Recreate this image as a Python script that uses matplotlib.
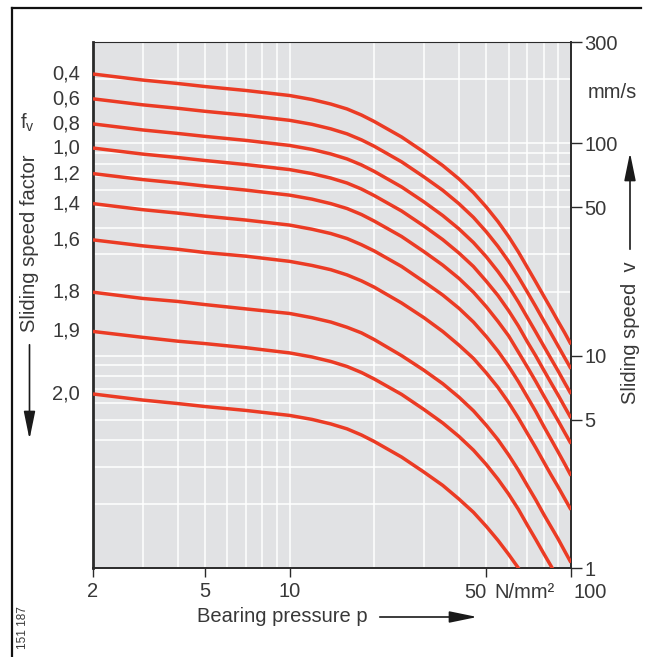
import matplotlib
matplotlib.use("Agg")
import matplotlib.pyplot as plt
from matplotlib.patches import FancyArrowPatch
from matplotlib.lines import Line2D
from matplotlib.ticker import FixedLocator, NullFormatter

plt.rcParams["font.family"] = ["Liberation Sans", "DejaVu Sans"]
plt.rcParams["mathtext.fontset"] = "custom"
plt.rcParams["mathtext.rm"] = "Liberation Sans"
plt.rcParams["mathtext.it"] = "Liberation Sans:italic"

# ── data ─────────────────────────────────────────────────────────────────────
PRESSURE = [2, 3, 4, 5, 7, 10, 12, 14, 16, 18, 20, 25, 30, 35, 40, 45, 50,
            55, 60, 65, 70, 75, 80, 85, 90, 95, 100]

V_04 = [212, 198.6, 191.3, 185.1, 177.3, 167.9, 160.8, 153.1, 145.1, 135.9, 126.6, 107.1, 91.0,
        78.6, 67.9, 58.6, 50.1, 42.8, 36.4, 30.8, 26.0, 22.2, 19.1, 16.6, 14.5, 12.8, 11.3]
V_06 = [162, 151.8, 146.2, 141.5, 135.5, 128.3, 122.9, 117.0, 110.8, 103.8, 96.8, 81.8, 69.5,
        60.1, 51.9, 44.8, 38.3, 32.7, 27.8, 23.5, 19.9, 17.0, 14.6, 12.7, 11.1, 9.77, 8.67]
V_08 = [123.4, 115.6, 111.3, 107.8, 103.2, 97.7, 93.6, 89.1, 84.4, 79.1, 73.7, 62.3, 53.0,
        45.7, 39.5, 34.1, 29.2, 24.9, 21.2, 17.9, 15.1, 12.9, 11.1, 9.65, 8.47, 7.44, 6.60]
V_10 = [95, 89.0, 85.7, 83.0, 79.4, 75.2, 72.0, 68.6, 65.0, 60.9, 56.7, 48.0, 40.8,
        35.2, 30.4, 26.3, 22.4, 19.2, 16.3, 13.8, 11.6, 9.96, 8.55, 7.43, 6.52, 5.73, 5.08]
V_12 = [72, 67.5, 65.0, 62.9, 60.2, 57.0, 54.6, 52.0, 49.3, 46.2, 43.0, 36.4, 30.9,
        26.7, 23.1, 19.9, 17.0, 14.5, 12.4, 10.4, 8.83, 7.55, 6.48, 5.63, 4.94, 4.34, 3.85]
V_14 = [52, 48.7, 46.9, 45.4, 43.5, 41.2, 39.4, 37.6, 35.6, 33.3, 31.1, 26.3, 22.3,
        19.3, 16.7, 14.4, 12.3, 10.5, 8.92, 7.55, 6.38, 5.45, 4.65, 4.03, 3.52, 3.09, 2.72]
V_16 = [35.1, 32.9, 31.7, 30.6, 29.4, 27.8, 26.6, 25.4, 24.0, 22.5, 21.0, 17.7, 15.1,
        13.0, 11.2, 9.71, 8.29, 7.09, 6.02, 5.09, 4.30, 3.68, 3.16, 2.74, 2.41, 2.12, 1.88]
V_18 = [19.9, 18.6, 18.0, 17.4, 16.6, 15.8, 15.1, 14.4, 13.6, 12.8, 11.9, 10.0, 8.54,
        7.38, 6.37, 5.50, 4.70, 4.02, 3.41, 2.89, 2.44, 2.09, 1.79, 1.56, 1.37, 1.20, 1.06]
V_19 = [13.0, 12.2, 11.7, 11.4, 10.9, 10.3, 9.86, 9.39, 8.89, 8.33, 7.76, 6.57, 5.58,
        4.82, 4.16, 3.59, 3.07, 2.62, 2.23, 1.89, 1.59, 1.36, 1.17, 1.02, 0.89, 0.78, 0.70]
V_20 = [6.6, 6.18, 5.95, 5.76, 5.52, 5.23, 5.01, 4.77, 4.52, 4.23, 3.94, 3.33, 2.83,
        2.45, 2.11, 1.83, 1.57, 1.35, 1.16, 1.00, 0.85, 0.72, 0.62, 0.54, 0.47, 0.41, 0.36]

FV_LABELS = ["0,4", "0,6", "0,8", "1,0", "1,2", "1,4", "1,6", "1,8", "1,9", "2,0"]
CURVES = [V_04, V_06, V_08, V_10, V_12, V_14, V_16, V_18, V_19, V_20]

X_TICKS = [2, 5, 10, 50, 100]
X_TICK_LABELS = ["2", "5", "10", "", ""]
X_GRID = [3, 4, 6, 7, 8, 9, 20, 30, 40, 60, 70, 80, 90]
Y_TICKS = [1, 5, 10, 50, 100, 300]
Y_TICK_LABELS = ["1", "5", "10", "50", "100", "300"]
Y_GRID = [2, 3, 4, 6, 7, 8, 9, 20, 30, 40, 60, 70, 80, 90, 200]

# ── styling ──────────────────────────────────────────────────────────────────
W, H = 653, 657
BG = "#e1e2e4"
RED = "#eb3b24"
TXT = "#383838"
DARK = "#2a2a2a"
FS = 14.5


def px(x, y):
    """image pixel (top-left origin) -> figure fraction"""
    return x / W, (H - y) / H


fig = plt.figure(figsize=(W / 100, H / 100), dpi=100)
ax = fig.add_axes([93 / W, (H - 568) / H, (571 - 93) / W, (568 - 42) / H])
ax.set_xscale("log")
ax.set_yscale("log")
ax.set_xlim(2, 100)
ax.set_ylim(1, 300)
ax.set_facecolor(BG)

for v in CURVES:
    ax.plot(PRESSURE, v, color=RED, lw=2.5, solid_capstyle="butt",
            solid_joinstyle="round", zorder=3)

# ticks / grid
ax.xaxis.set_major_locator(FixedLocator(X_TICKS))
ax.xaxis.set_minor_locator(FixedLocator(X_GRID))
ax.set_xticklabels(X_TICK_LABELS)
ax.xaxis.set_minor_formatter(NullFormatter())
ax.yaxis.tick_right()
ax.yaxis.set_major_locator(FixedLocator(Y_TICKS))
ax.yaxis.set_minor_locator(FixedLocator(Y_GRID))
ax.set_yticklabels(Y_TICK_LABELS)
ax.yaxis.set_minor_formatter(NullFormatter())

ax.tick_params(which="major", axis="x", direction="out", length=6.5, width=1.0,
               color=DARK, pad=3.5, labelsize=FS, labelcolor=TXT)
ax.tick_params(which="major", axis="y", direction="out", length=8, width=1.0,
               color=DARK, pad=1.5, labelsize=FS, labelcolor=TXT)
ax.tick_params(which="minor", length=0)
ax.grid(True, which="both", color="white", lw=1.1, zorder=1)
ax.set_axisbelow(True)

for side, lw in (("left", 2.0), ("bottom", 1.4), ("right", 1.4), ("top", 0.8)):
    ax.spines[side].set_linewidth(lw)
    ax.spines[side].set_color(DARK)

# "50 N/mm² 100"
xax = ("data", "axes fraction")
ax.annotate("50", xy=(50, 0), xycoords=xax, xytext=(0, -25), textcoords="offset pixels",
            ha="right", va="center", fontsize=FS, color=TXT)
ax.annotate("N/mm²", xy=(50, 0), xycoords=xax, xytext=(8, -25), textcoords="offset pixels",
            ha="left", va="center", fontsize=FS, color=TXT)
ax.annotate("100", xy=(100, 0), xycoords=xax, xytext=(2, -25), textcoords="offset pixels",
            ha="left", va="center", fontsize=FS, color=TXT)

# "mm/s" under 300
ax.annotate("mm/s", xy=(1, 173), xycoords=("axes fraction", "data"), xytext=(17, 0),
            textcoords="offset pixels", ha="left", va="center", fontsize=FS, color=TXT)

# f_v labels at the curve starts
for lab, v in zip(FV_LABELS, CURVES):
    ax.annotate(lab, xy=(0, v[0]), xycoords=("axes fraction", "data"), xytext=(-13, 0),
                textcoords="offset pixels", ha="right", va="center", fontsize=FS, color=TXT)

fig.text(*px(20, 123), r"f$_{\mathrm{v}}$", ha="left", va="center", fontsize=FS, color=TXT)

# axis titles
fig.text(*px(30, 243), "Sliding speed factor", rotation=90, ha="center", va="center",
         fontsize=FS, color=TXT)
fig.text(*px(630, 333), "Sliding speed  v", rotation=90, ha="center", va="center",
         fontsize=FS, color=TXT)
fig.text(*px(197, 617), "Bearing pressure p", ha="left", va="center",
         fontsize=FS, color=TXT)
fig.text(*px(23, 628), "151 187", rotation=90, ha="center", va="center",
         fontsize=8.5, color=TXT)

# arrows
arrow_kw = dict(arrowstyle="-|>,head_length=1.7,head_width=0.35", mutation_scale=10,
                color="#1a1a1a", lw=1.2, transform=fig.transFigure)
fig.add_artist(FancyArrowPatch(px(29.5, 342), px(29.5, 442), **arrow_kw))
fig.add_artist(FancyArrowPatch(px(630, 252), px(630, 150), **arrow_kw))
fig.add_artist(FancyArrowPatch(px(377, 617), px(480, 617), **arrow_kw))

# outer frame
fig.add_artist(Line2D([px(12, 0)[0]] * 2, [px(0, 8)[1], 0], transform=fig.transFigure,
                      color="#111111", lw=1.6))
fig.add_artist(Line2D([px(12, 0)[0], px(641, 0)[0]], [px(0, 8)[1]] * 2,
                      transform=fig.transFigure, color="#111111", lw=1.6))

fig.savefig("out.png", dpi=100, facecolor="white")
plt.close(fig)
